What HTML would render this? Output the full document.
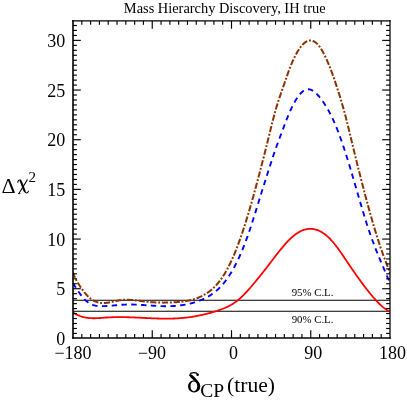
<!DOCTYPE html>
<html><head><meta charset="utf-8"><title>Mass Hierarchy Discovery</title>
<style>
html,body{margin:0;padding:0;background:#fff;}
body{width:407px;height:400px;overflow:hidden;font-family:"Liberation Serif",serif;}
svg{display:block;will-change:transform;}
text{font-family:"Liberation Serif",serif;fill:#000;}
</style></head><body>
<svg width="407" height="400" viewBox="0 0 407 400">
<rect width="407" height="400" fill="#fff"/>
<defs><clipPath id="c"><rect x="73.0" y="20.9" width="317.0" height="317.1"/></clipPath></defs>
<g clip-path="url(#c)" fill="none">
<line x1="73.0" x2="390.0" y1="300.3" y2="300.3" stroke="#000" stroke-width="1.05"/>
<line x1="73.0" x2="390.0" y1="311.3" y2="311.3" stroke="#000" stroke-width="1.05"/>
<path d="M73.00,312.36 L73.64,312.78 L74.27,313.18 L74.91,313.57 L75.54,313.93 L76.18,314.28 L76.81,314.61 L77.45,314.92 L78.08,315.21 L78.72,315.49 L79.35,315.75 L79.99,316.00 L80.62,316.23 L81.26,316.45 L81.89,316.65 L82.53,316.83 L83.16,317.01 L83.80,317.17 L84.43,317.31 L85.07,317.45 L85.71,317.57 L86.34,317.68 L86.98,317.78 L87.61,317.87 L88.25,317.94 L88.88,318.01 L89.52,318.07 L90.15,318.12 L90.79,318.16 L91.42,318.19 L92.06,318.21 L92.69,318.23 L93.33,318.24 L93.96,318.24 L94.60,318.24 L95.23,318.23 L95.87,318.21 L96.51,318.19 L97.14,318.17 L97.78,318.14 L98.41,318.11 L99.05,318.07 L99.68,318.03 L100.32,317.99 L100.95,317.95 L101.59,317.90 L102.22,317.85 L102.86,317.81 L103.49,317.76 L104.13,317.71 L104.76,317.66 L105.40,317.61 L106.03,317.57 L106.67,317.52 L107.30,317.48 L107.94,317.44 L108.58,317.40 L109.21,317.37 L109.85,317.34 L110.48,317.31 L111.12,317.28 L111.75,317.25 L112.39,317.23 L113.02,317.21 L113.66,317.19 L114.29,317.17 L114.93,317.16 L115.56,317.14 L116.20,317.13 L116.83,317.12 L117.47,317.12 L118.10,317.11 L118.74,317.11 L119.37,317.11 L120.01,317.11 L120.65,317.11 L121.28,317.11 L121.92,317.12 L122.55,317.12 L123.19,317.13 L123.82,317.14 L124.46,317.15 L125.09,317.16 L125.73,317.18 L126.36,317.19 L127.00,317.21 L127.63,317.23 L128.27,317.24 L128.90,317.26 L129.54,317.28 L130.17,317.30 L130.81,317.33 L131.44,317.35 L132.08,317.37 L132.72,317.40 L133.35,317.42 L133.99,317.45 L134.62,317.48 L135.26,317.50 L135.89,317.53 L136.53,317.56 L137.16,317.59 L137.80,317.62 L138.43,317.65 L139.07,317.68 L139.70,317.71 L140.34,317.74 L140.97,317.77 L141.61,317.80 L142.24,317.83 L142.88,317.86 L143.52,317.89 L144.15,317.92 L144.79,317.95 L145.42,317.98 L146.06,318.02 L146.69,318.05 L147.33,318.08 L147.96,318.11 L148.60,318.13 L149.23,318.16 L149.87,318.19 L150.50,318.22 L151.14,318.25 L151.77,318.28 L152.41,318.30 L153.04,318.33 L153.68,318.35 L154.31,318.38 L154.95,318.40 L155.59,318.42 L156.22,318.44 L156.86,318.47 L157.49,318.48 L158.13,318.50 L158.76,318.52 L159.40,318.54 L160.03,318.55 L160.67,318.57 L161.30,318.58 L161.94,318.59 L162.57,318.60 L163.21,318.61 L163.84,318.62 L164.48,318.62 L165.11,318.63 L165.75,318.63 L166.38,318.63 L167.02,318.63 L167.66,318.63 L168.29,318.62 L168.93,318.62 L169.56,318.61 L170.20,318.60 L170.83,318.59 L171.47,318.58 L172.10,318.56 L172.74,318.54 L173.37,318.52 L174.01,318.50 L174.64,318.48 L175.28,318.45 L175.91,318.42 L176.55,318.39 L177.18,318.36 L177.82,318.32 L178.45,318.28 L179.09,318.24 L179.73,318.20 L180.36,318.15 L181.00,318.10 L181.63,318.05 L182.27,317.99 L182.90,317.94 L183.54,317.88 L184.17,317.81 L184.81,317.75 L185.44,317.68 L186.08,317.61 L186.71,317.53 L187.35,317.46 L187.98,317.38 L188.62,317.29 L189.25,317.21 L189.89,317.12 L190.53,317.03 L191.16,316.94 L191.80,316.84 L192.43,316.74 L193.07,316.64 L193.70,316.53 L194.34,316.43 L194.97,316.32 L195.61,316.20 L196.24,316.09 L196.88,315.97 L197.51,315.85 L198.15,315.72 L198.78,315.60 L199.42,315.47 L200.05,315.34 L200.69,315.20 L201.32,315.07 L201.96,314.93 L202.60,314.78 L203.23,314.64 L203.87,314.49 L204.50,314.34 L205.14,314.19 L205.77,314.03 L206.41,313.88 L207.04,313.71 L207.68,313.55 L208.31,313.39 L208.95,313.22 L209.58,313.05 L210.22,312.87 L210.85,312.70 L211.49,312.52 L212.12,312.34 L212.76,312.15 L213.39,311.97 L214.03,311.78 L214.67,311.59 L215.30,311.39 L215.94,311.20 L216.57,311.00 L217.21,310.79 L217.84,310.59 L218.48,310.38 L219.11,310.17 L219.75,309.95 L220.38,309.72 L221.02,309.49 L221.65,309.26 L222.29,309.02 L222.92,308.77 L223.56,308.52 L224.19,308.26 L224.83,307.99 L225.46,307.71 L226.10,307.43 L226.74,307.14 L227.37,306.83 L228.01,306.52 L228.64,306.20 L229.28,305.87 L229.91,305.53 L230.55,305.17 L231.18,304.81 L231.82,304.43 L232.45,304.04 L233.09,303.64 L233.72,303.23 L234.36,302.80 L234.99,302.36 L235.63,301.91 L236.26,301.44 L236.90,300.96 L237.54,300.46 L238.17,299.94 L238.81,299.41 L239.44,298.87 L240.08,298.31 L240.71,297.74 L241.35,297.15 L241.98,296.55 L242.62,295.94 L243.25,295.31 L243.89,294.67 L244.52,294.02 L245.16,293.36 L245.79,292.69 L246.43,292.01 L247.06,291.33 L247.70,290.63 L248.33,289.92 L248.97,289.21 L249.61,288.48 L250.24,287.76 L250.88,287.02 L251.51,286.28 L252.15,285.53 L252.78,284.78 L253.42,284.02 L254.05,283.26 L254.69,282.50 L255.32,281.73 L255.96,280.96 L256.59,280.19 L257.23,279.41 L257.86,278.63 L258.50,277.85 L259.13,277.07 L259.77,276.28 L260.40,275.49 L261.04,274.70 L261.68,273.90 L262.31,273.11 L262.95,272.30 L263.58,271.50 L264.22,270.69 L264.85,269.88 L265.49,269.07 L266.12,268.26 L266.76,267.44 L267.39,266.62 L268.03,265.79 L268.66,264.97 L269.30,264.14 L269.93,263.31 L270.57,262.47 L271.20,261.64 L271.84,260.80 L272.47,259.97 L273.11,259.14 L273.75,258.30 L274.38,257.47 L275.02,256.64 L275.65,255.82 L276.29,254.99 L276.92,254.17 L277.56,253.36 L278.19,252.55 L278.83,251.75 L279.46,250.95 L280.10,250.16 L280.73,249.37 L281.37,248.59 L282.00,247.83 L282.64,247.06 L283.27,246.31 L283.91,245.57 L284.55,244.84 L285.18,244.12 L285.82,243.41 L286.45,242.72 L287.09,242.03 L287.72,241.36 L288.36,240.70 L288.99,240.06 L289.63,239.43 L290.26,238.82 L290.90,238.22 L291.53,237.63 L292.17,237.07 L292.80,236.52 L293.44,235.98 L294.07,235.46 L294.71,234.96 L295.34,234.48 L295.98,234.02 L296.62,233.57 L297.25,233.14 L297.89,232.74 L298.52,232.35 L299.16,231.98 L299.79,231.63 L300.43,231.30 L301.06,230.99 L301.70,230.70 L302.33,230.43 L302.97,230.19 L303.60,229.96 L304.24,229.75 L304.87,229.57 L305.51,229.40 L306.14,229.26 L306.78,229.14 L307.41,229.03 L308.05,228.95 L308.69,228.89 L309.32,228.85 L309.96,228.83 L310.59,228.83 L311.23,228.85 L311.86,228.89 L312.50,228.95 L313.13,229.04 L313.77,229.14 L314.40,229.26 L315.04,229.41 L315.67,229.58 L316.31,229.76 L316.94,229.97 L317.58,230.20 L318.21,230.45 L318.85,230.72 L319.48,231.01 L320.12,231.32 L320.76,231.65 L321.39,232.01 L322.03,232.38 L322.66,232.78 L323.30,233.19 L323.93,233.63 L324.57,234.09 L325.20,234.57 L325.84,235.07 L326.47,235.59 L327.11,236.13 L327.74,236.70 L328.38,237.28 L329.01,237.89 L329.65,238.51 L330.28,239.16 L330.92,239.83 L331.56,240.52 L332.19,241.23 L332.83,241.96 L333.46,242.71 L334.10,243.48 L334.73,244.26 L335.37,245.06 L336.00,245.88 L336.64,246.71 L337.27,247.55 L337.91,248.41 L338.54,249.28 L339.18,250.16 L339.81,251.05 L340.45,251.95 L341.08,252.86 L341.72,253.77 L342.35,254.70 L342.99,255.62 L343.63,256.56 L344.26,257.50 L344.90,258.44 L345.53,259.38 L346.17,260.33 L346.80,261.27 L347.44,262.22 L348.07,263.16 L348.71,264.11 L349.34,265.05 L349.98,265.99 L350.61,266.92 L351.25,267.85 L351.88,268.78 L352.52,269.70 L353.15,270.62 L353.79,271.53 L354.42,272.44 L355.06,273.35 L355.70,274.25 L356.33,275.15 L356.97,276.05 L357.60,276.94 L358.24,277.83 L358.87,278.71 L359.51,279.59 L360.14,280.46 L360.78,281.33 L361.41,282.20 L362.05,283.06 L362.68,283.91 L363.32,284.76 L363.95,285.61 L364.59,286.45 L365.22,287.29 L365.86,288.12 L366.49,288.95 L367.13,289.76 L367.77,290.58 L368.40,291.38 L369.04,292.18 L369.67,292.97 L370.31,293.75 L370.94,294.52 L371.58,295.29 L372.21,296.04 L372.85,296.79 L373.48,297.52 L374.12,298.25 L374.75,298.96 L375.39,299.67 L376.02,300.36 L376.66,301.04 L377.29,301.70 L377.93,302.36 L378.57,303.00 L379.20,303.63 L379.84,304.24 L380.47,304.84 L381.11,305.43 L381.74,306.00 L382.38,306.56 L383.01,307.10 L383.65,307.62 L384.28,308.13 L384.92,308.62 L385.55,309.09 L386.19,309.55 L386.82,309.99 L387.46,310.41 L388.09,310.81 L388.73,311.19 L389.36,311.55 L390.00,311.89" stroke="#ff0000" stroke-width="1.8"/>
<path d="M73.00,283.17 L73.64,284.17 L74.27,285.16 L74.91,286.16 L75.54,287.14 L76.18,288.12 L76.81,289.09 L77.45,290.05 L78.08,290.99 L78.72,291.92 L79.35,292.83 L79.99,293.72 L80.62,294.59 L81.26,295.44 L81.89,296.26 L82.53,297.05 L83.16,297.81 L83.80,298.54 L84.43,299.23 L85.07,299.88 L85.71,300.50 L86.34,301.08 L86.98,301.61 L87.61,302.11 L88.25,302.57 L88.88,303.00 L89.52,303.39 L90.15,303.74 L90.79,304.07 L91.42,304.37 L92.06,304.64 L92.69,304.88 L93.33,305.09 L93.96,305.28 L94.60,305.45 L95.23,305.59 L95.87,305.72 L96.51,305.83 L97.14,305.92 L97.78,305.99 L98.41,306.05 L99.05,306.09 L99.68,306.13 L100.32,306.15 L100.95,306.17 L101.59,306.18 L102.22,306.18 L102.86,306.17 L103.49,306.16 L104.13,306.15 L104.76,306.13 L105.40,306.10 L106.03,306.07 L106.67,306.04 L107.30,306.00 L107.94,305.96 L108.58,305.91 L109.21,305.87 L109.85,305.82 L110.48,305.76 L111.12,305.71 L111.75,305.65 L112.39,305.60 L113.02,305.54 L113.66,305.48 L114.29,305.42 L114.93,305.36 L115.56,305.30 L116.20,305.24 L116.83,305.18 L117.47,305.12 L118.10,305.06 L118.74,305.01 L119.37,304.95 L120.01,304.90 L120.65,304.85 L121.28,304.81 L121.92,304.76 L122.55,304.72 L123.19,304.68 L123.82,304.65 L124.46,304.62 L125.09,304.60 L125.73,304.58 L126.36,304.56 L127.00,304.54 L127.63,304.53 L128.27,304.53 L128.90,304.52 L129.54,304.52 L130.17,304.52 L130.81,304.53 L131.44,304.53 L132.08,304.54 L132.72,304.56 L133.35,304.57 L133.99,304.59 L134.62,304.61 L135.26,304.63 L135.89,304.65 L136.53,304.68 L137.16,304.71 L137.80,304.73 L138.43,304.77 L139.07,304.80 L139.70,304.83 L140.34,304.87 L140.97,304.90 L141.61,304.94 L142.24,304.98 L142.88,305.02 L143.52,305.06 L144.15,305.10 L144.79,305.14 L145.42,305.19 L146.06,305.23 L146.69,305.27 L147.33,305.31 L147.96,305.36 L148.60,305.40 L149.23,305.44 L149.87,305.49 L150.50,305.53 L151.14,305.57 L151.77,305.62 L152.41,305.66 L153.04,305.70 L153.68,305.74 L154.31,305.78 L154.95,305.81 L155.59,305.85 L156.22,305.89 L156.86,305.92 L157.49,305.95 L158.13,305.99 L158.76,306.02 L159.40,306.04 L160.03,306.07 L160.67,306.09 L161.30,306.12 L161.94,306.14 L162.57,306.16 L163.21,306.17 L163.84,306.19 L164.48,306.20 L165.11,306.20 L165.75,306.21 L166.38,306.21 L167.02,306.21 L167.66,306.21 L168.29,306.20 L168.93,306.19 L169.56,306.18 L170.20,306.16 L170.83,306.14 L171.47,306.12 L172.10,306.09 L172.74,306.06 L173.37,306.03 L174.01,305.99 L174.64,305.95 L175.28,305.90 L175.91,305.85 L176.55,305.80 L177.18,305.74 L177.82,305.68 L178.45,305.61 L179.09,305.54 L179.73,305.47 L180.36,305.39 L181.00,305.31 L181.63,305.22 L182.27,305.13 L182.90,305.03 L183.54,304.93 L184.17,304.82 L184.81,304.71 L185.44,304.59 L186.08,304.47 L186.71,304.34 L187.35,304.21 L187.98,304.08 L188.62,303.94 L189.25,303.79 L189.89,303.64 L190.53,303.48 L191.16,303.32 L191.80,303.15 L192.43,302.97 L193.07,302.79 L193.70,302.61 L194.34,302.42 L194.97,302.22 L195.61,302.02 L196.24,301.81 L196.88,301.60 L197.51,301.38 L198.15,301.15 L198.78,300.92 L199.42,300.68 L200.05,300.43 L200.69,300.18 L201.32,299.92 L201.96,299.66 L202.60,299.38 L203.23,299.10 L203.87,298.81 L204.50,298.51 L205.14,298.20 L205.77,297.89 L206.41,297.56 L207.04,297.22 L207.68,296.87 L208.31,296.51 L208.95,296.14 L209.58,295.75 L210.22,295.35 L210.85,294.94 L211.49,294.52 L212.12,294.08 L212.76,293.63 L213.39,293.16 L214.03,292.68 L214.67,292.18 L215.30,291.67 L215.94,291.14 L216.57,290.60 L217.21,290.03 L217.84,289.45 L218.48,288.85 L219.11,288.24 L219.75,287.60 L220.38,286.95 L221.02,286.27 L221.65,285.58 L222.29,284.87 L222.92,284.13 L223.56,283.38 L224.19,282.60 L224.83,281.80 L225.46,280.98 L226.10,280.13 L226.74,279.27 L227.37,278.38 L228.01,277.46 L228.64,276.52 L229.28,275.56 L229.91,274.58 L230.55,273.56 L231.18,272.53 L231.82,271.47 L232.45,270.38 L233.09,269.27 L233.72,268.13 L234.36,266.96 L234.99,265.77 L235.63,264.55 L236.26,263.31 L236.90,262.03 L237.54,260.73 L238.17,259.40 L238.81,258.05 L239.44,256.66 L240.08,255.24 L240.71,253.80 L241.35,252.33 L241.98,250.82 L242.62,249.29 L243.25,247.72 L243.89,246.13 L244.52,244.50 L245.16,242.85 L245.79,241.16 L246.43,239.44 L247.06,237.69 L247.70,235.90 L248.33,234.09 L248.97,232.25 L249.61,230.38 L250.24,228.48 L250.88,226.57 L251.51,224.63 L252.15,222.67 L252.78,220.69 L253.42,218.70 L254.05,216.69 L254.69,214.67 L255.32,212.64 L255.96,210.60 L256.59,208.55 L257.23,206.49 L257.86,204.44 L258.50,202.37 L259.13,200.31 L259.77,198.25 L260.40,196.19 L261.04,194.14 L261.68,192.09 L262.31,190.04 L262.95,188.01 L263.58,185.99 L264.22,183.97 L264.85,181.97 L265.49,179.97 L266.12,177.97 L266.76,175.98 L267.39,174.00 L268.03,172.02 L268.66,170.05 L269.30,168.08 L269.93,166.11 L270.57,164.14 L271.20,162.18 L271.84,160.22 L272.47,158.28 L273.11,156.35 L273.75,154.44 L274.38,152.55 L275.02,150.69 L275.65,148.86 L276.29,147.07 L276.92,145.30 L277.56,143.57 L278.19,141.85 L278.83,140.15 L279.46,138.46 L280.10,136.78 L280.73,135.11 L281.37,133.43 L282.00,131.75 L282.64,130.06 L283.27,128.37 L283.91,126.68 L284.55,124.99 L285.18,123.32 L285.82,121.66 L286.45,120.03 L287.09,118.42 L287.72,116.85 L288.36,115.31 L288.99,113.80 L289.63,112.33 L290.26,110.89 L290.90,109.49 L291.53,108.13 L292.17,106.81 L292.80,105.52 L293.44,104.28 L294.07,103.08 L294.71,101.93 L295.34,100.82 L295.98,99.75 L296.62,98.74 L297.25,97.77 L297.89,96.85 L298.52,95.98 L299.16,95.16 L299.79,94.39 L300.43,93.67 L301.06,93.00 L301.70,92.39 L302.33,91.83 L302.97,91.33 L303.60,90.88 L304.24,90.48 L304.87,90.14 L305.51,89.86 L306.14,89.63 L306.78,89.47 L307.41,89.36 L308.05,89.31 L308.69,89.32 L309.32,89.39 L309.96,89.51 L310.59,89.70 L311.23,89.93 L311.86,90.22 L312.50,90.56 L313.13,90.94 L313.77,91.37 L314.40,91.85 L315.04,92.36 L315.67,92.92 L316.31,93.51 L316.94,94.14 L317.58,94.81 L318.21,95.51 L318.85,96.23 L319.48,96.99 L320.12,97.77 L320.76,98.58 L321.39,99.41 L322.03,100.26 L322.66,101.14 L323.30,102.05 L323.93,102.98 L324.57,103.94 L325.20,104.92 L325.84,105.94 L326.47,106.98 L327.11,108.05 L327.74,109.14 L328.38,110.27 L329.01,111.43 L329.65,112.62 L330.28,113.84 L330.92,115.10 L331.56,116.38 L332.19,117.70 L332.83,119.05 L333.46,120.44 L334.10,121.86 L334.73,123.32 L335.37,124.81 L336.00,126.34 L336.64,127.91 L337.27,129.50 L337.91,131.13 L338.54,132.80 L339.18,134.49 L339.81,136.22 L340.45,137.97 L341.08,139.75 L341.72,141.56 L342.35,143.40 L342.99,145.26 L343.63,147.15 L344.26,149.07 L344.90,151.00 L345.53,152.96 L346.17,154.94 L346.80,156.94 L347.44,158.96 L348.07,161.00 L348.71,163.06 L349.34,165.14 L349.98,167.23 L350.61,169.34 L351.25,171.46 L351.88,173.59 L352.52,175.74 L353.15,177.90 L353.79,180.07 L354.42,182.25 L355.06,184.44 L355.70,186.63 L356.33,188.82 L356.97,191.02 L357.60,193.21 L358.24,195.40 L358.87,197.59 L359.51,199.78 L360.14,201.95 L360.78,204.12 L361.41,206.28 L362.05,208.42 L362.68,210.55 L363.32,212.67 L363.95,214.76 L364.59,216.84 L365.22,218.90 L365.86,220.93 L366.49,222.94 L367.13,224.92 L367.77,226.88 L368.40,228.80 L369.04,230.70 L369.67,232.56 L370.31,234.40 L370.94,236.21 L371.58,238.00 L372.21,239.75 L372.85,241.49 L373.48,243.19 L374.12,244.88 L374.75,246.54 L375.39,248.18 L376.02,249.80 L376.66,251.40 L377.29,252.99 L377.93,254.55 L378.57,256.11 L379.20,257.64 L379.84,259.17 L380.47,260.68 L381.11,262.19 L381.74,263.68 L382.38,265.17 L383.01,266.66 L383.65,268.14 L384.28,269.62 L384.92,271.09 L385.55,272.57 L386.19,274.05 L386.82,275.53 L387.46,277.01 L388.09,278.50 L388.73,280.00 L389.36,281.51 L390.00,283.02" stroke="#0000ff" stroke-width="1.9" stroke-dasharray="5.4 4.4"/>
<path d="M73.00,272.59 L73.64,274.27 L74.27,275.84 L74.91,277.30 L75.54,278.66 L76.18,279.93 L76.81,281.13 L77.45,282.26 L78.08,283.32 L78.72,284.33 L79.35,285.30 L79.99,286.24 L80.62,287.15 L81.26,288.05 L81.89,288.93 L82.53,289.80 L83.16,290.66 L83.80,291.50 L84.43,292.32 L85.07,293.10 L85.71,293.86 L86.34,294.59 L86.98,295.28 L87.61,295.93 L88.25,296.56 L88.88,297.15 L89.52,297.70 L90.15,298.23 L90.79,298.73 L91.42,299.19 L92.06,299.63 L92.69,300.04 L93.33,300.42 L93.96,300.77 L94.60,301.09 L95.23,301.39 L95.87,301.66 L96.51,301.90 L97.14,302.12 L97.78,302.32 L98.41,302.49 L99.05,302.64 L99.68,302.76 L100.32,302.87 L100.95,302.95 L101.59,303.01 L102.22,303.05 L102.86,303.07 L103.49,303.07 L104.13,303.06 L104.76,303.03 L105.40,302.98 L106.03,302.93 L106.67,302.85 L107.30,302.77 L107.94,302.67 L108.58,302.57 L109.21,302.46 L109.85,302.34 L110.48,302.21 L111.12,302.08 L111.75,301.94 L112.39,301.80 L113.02,301.66 L113.66,301.51 L114.29,301.37 L114.93,301.23 L115.56,301.08 L116.20,300.95 L116.83,300.81 L117.47,300.68 L118.10,300.56 L118.74,300.45 L119.37,300.34 L120.01,300.24 L120.65,300.16 L121.28,300.08 L121.92,300.01 L122.55,299.95 L123.19,299.91 L123.82,299.87 L124.46,299.84 L125.09,299.81 L125.73,299.80 L126.36,299.79 L127.00,299.79 L127.63,299.80 L128.27,299.82 L128.90,299.84 L129.54,299.86 L130.17,299.90 L130.81,299.93 L131.44,299.98 L132.08,300.02 L132.72,300.08 L133.35,300.13 L133.99,300.19 L134.62,300.26 L135.26,300.33 L135.89,300.40 L136.53,300.47 L137.16,300.54 L137.80,300.62 L138.43,300.70 L139.07,300.78 L139.70,300.86 L140.34,300.94 L140.97,301.02 L141.61,301.11 L142.24,301.19 L142.88,301.27 L143.52,301.35 L144.15,301.43 L144.79,301.51 L145.42,301.58 L146.06,301.66 L146.69,301.73 L147.33,301.80 L147.96,301.86 L148.60,301.93 L149.23,301.99 L149.87,302.04 L150.50,302.10 L151.14,302.15 L151.77,302.20 L152.41,302.25 L153.04,302.29 L153.68,302.33 L154.31,302.37 L154.95,302.40 L155.59,302.43 L156.22,302.46 L156.86,302.49 L157.49,302.52 L158.13,302.54 L158.76,302.56 L159.40,302.58 L160.03,302.59 L160.67,302.60 L161.30,302.61 L161.94,302.62 L162.57,302.62 L163.21,302.63 L163.84,302.63 L164.48,302.62 L165.11,302.62 L165.75,302.61 L166.38,302.60 L167.02,302.59 L167.66,302.58 L168.29,302.56 L168.93,302.54 L169.56,302.52 L170.20,302.50 L170.83,302.47 L171.47,302.45 L172.10,302.42 L172.74,302.39 L173.37,302.35 L174.01,302.32 L174.64,302.28 L175.28,302.24 L175.91,302.20 L176.55,302.16 L177.18,302.11 L177.82,302.06 L178.45,302.01 L179.09,301.95 L179.73,301.89 L180.36,301.83 L181.00,301.77 L181.63,301.69 L182.27,301.62 L182.90,301.54 L183.54,301.46 L184.17,301.37 L184.81,301.27 L185.44,301.18 L186.08,301.07 L186.71,300.96 L187.35,300.84 L187.98,300.72 L188.62,300.59 L189.25,300.45 L189.89,300.31 L190.53,300.16 L191.16,300.00 L191.80,299.84 L192.43,299.66 L193.07,299.48 L193.70,299.29 L194.34,299.10 L194.97,298.89 L195.61,298.68 L196.24,298.45 L196.88,298.22 L197.51,297.97 L198.15,297.72 L198.78,297.46 L199.42,297.19 L200.05,296.90 L200.69,296.61 L201.32,296.30 L201.96,295.99 L202.60,295.66 L203.23,295.32 L203.87,294.97 L204.50,294.61 L205.14,294.23 L205.77,293.85 L206.41,293.44 L207.04,293.03 L207.68,292.60 L208.31,292.16 L208.95,291.69 L209.58,291.22 L210.22,290.72 L210.85,290.21 L211.49,289.68 L212.12,289.14 L212.76,288.57 L213.39,287.98 L214.03,287.38 L214.67,286.75 L215.30,286.10 L215.94,285.43 L216.57,284.74 L217.21,284.02 L217.84,283.28 L218.48,282.51 L219.11,281.73 L219.75,280.91 L220.38,280.07 L221.02,279.20 L221.65,278.31 L222.29,277.39 L222.92,276.44 L223.56,275.46 L224.19,274.45 L224.83,273.41 L225.46,272.35 L226.10,271.25 L226.74,270.12 L227.37,268.95 L228.01,267.76 L228.64,266.53 L229.28,265.27 L229.91,263.98 L230.55,262.65 L231.18,261.30 L231.82,259.91 L232.45,258.49 L233.09,257.04 L233.72,255.56 L234.36,254.05 L234.99,252.51 L235.63,250.94 L236.26,249.34 L236.90,247.71 L237.54,246.05 L238.17,244.36 L238.81,242.65 L239.44,240.90 L240.08,239.13 L240.71,237.33 L241.35,235.50 L241.98,233.65 L242.62,231.77 L243.25,229.86 L243.89,227.92 L244.52,225.96 L245.16,223.97 L245.79,221.96 L246.43,219.92 L247.06,217.86 L247.70,215.77 L248.33,213.65 L248.97,211.51 L249.61,209.35 L250.24,207.17 L250.88,204.96 L251.51,202.73 L252.15,200.49 L252.78,198.22 L253.42,195.94 L254.05,193.63 L254.69,191.31 L255.32,188.98 L255.96,186.63 L256.59,184.26 L257.23,181.89 L257.86,179.50 L258.50,177.09 L259.13,174.68 L259.77,172.25 L260.40,169.82 L261.04,167.38 L261.68,164.93 L262.31,162.47 L262.95,160.00 L263.58,157.53 L264.22,155.04 L264.85,152.54 L265.49,150.03 L266.12,147.50 L266.76,144.96 L267.39,142.40 L268.03,139.83 L268.66,137.24 L269.30,134.64 L269.93,132.04 L270.57,129.45 L271.20,126.87 L271.84,124.32 L272.47,121.80 L273.11,119.32 L273.75,116.88 L274.38,114.49 L275.02,112.17 L275.65,109.91 L276.29,107.73 L276.92,105.62 L277.56,103.58 L278.19,101.59 L278.83,99.65 L279.46,97.74 L280.10,95.87 L280.73,94.02 L281.37,92.19 L282.00,90.36 L282.64,88.53 L283.27,86.70 L283.91,84.85 L284.55,83.00 L285.18,81.15 L285.82,79.30 L286.45,77.47 L287.09,75.65 L287.72,73.86 L288.36,72.10 L288.99,70.38 L289.63,68.69 L290.26,67.06 L290.90,65.46 L291.53,63.92 L292.17,62.41 L292.80,60.96 L293.44,59.55 L294.07,58.19 L294.71,56.87 L295.34,55.61 L295.98,54.39 L296.62,53.22 L297.25,52.10 L297.89,51.03 L298.52,50.01 L299.16,49.03 L299.79,48.11 L300.43,47.24 L301.06,46.42 L301.70,45.65 L302.33,44.94 L302.97,44.27 L303.60,43.66 L304.24,43.10 L304.87,42.60 L305.51,42.15 L306.14,41.75 L306.78,41.41 L307.41,41.12 L308.05,40.88 L308.69,40.71 L309.32,40.58 L309.96,40.52 L310.59,40.51 L311.23,40.56 L311.86,40.66 L312.50,40.83 L313.13,41.05 L313.77,41.33 L314.40,41.67 L315.04,42.07 L315.67,42.52 L316.31,43.04 L316.94,43.62 L317.58,44.26 L318.21,44.96 L318.85,45.72 L319.48,46.54 L320.12,47.42 L320.76,48.36 L321.39,49.35 L322.03,50.40 L322.66,51.50 L323.30,52.65 L323.93,53.86 L324.57,55.11 L325.20,56.41 L325.84,57.75 L326.47,59.14 L327.11,60.58 L327.74,62.05 L328.38,63.57 L329.01,65.12 L329.65,66.72 L330.28,68.34 L330.92,70.01 L331.56,71.70 L332.19,73.43 L332.83,75.19 L333.46,76.98 L334.10,78.80 L334.73,80.64 L335.37,82.50 L336.00,84.39 L336.64,86.31 L337.27,88.24 L337.91,90.19 L338.54,92.16 L339.18,94.16 L339.81,96.19 L340.45,98.25 L341.08,100.34 L341.72,102.48 L342.35,104.66 L342.99,106.88 L343.63,109.16 L344.26,111.49 L344.90,113.87 L345.53,116.30 L346.17,118.77 L346.80,121.27 L347.44,123.81 L348.07,126.38 L348.71,128.97 L349.34,131.58 L349.98,134.21 L350.61,136.84 L351.25,139.49 L351.88,142.13 L352.52,144.77 L353.15,147.41 L353.79,150.03 L354.42,152.64 L355.06,155.23 L355.70,157.81 L356.33,160.38 L356.97,162.93 L357.60,165.47 L358.24,168.00 L358.87,170.52 L359.51,173.03 L360.14,175.53 L360.78,178.02 L361.41,180.50 L362.05,182.97 L362.68,185.43 L363.32,187.87 L363.95,190.31 L364.59,192.73 L365.22,195.14 L365.86,197.53 L366.49,199.91 L367.13,202.27 L367.77,204.61 L368.40,206.94 L369.04,209.25 L369.67,211.55 L370.31,213.82 L370.94,216.07 L371.58,218.31 L372.21,220.52 L372.85,222.71 L373.48,224.88 L374.12,227.03 L374.75,229.15 L375.39,231.25 L376.02,233.32 L376.66,235.37 L377.29,237.39 L377.93,239.39 L378.57,241.35 L379.20,243.29 L379.84,245.20 L380.47,247.08 L381.11,248.92 L381.74,250.74 L382.38,252.53 L383.01,254.29 L383.65,256.03 L384.28,257.75 L384.92,259.46 L385.55,261.16 L386.19,262.84 L386.82,264.53 L387.46,266.20 L388.09,267.88 L388.73,269.57 L389.36,271.26 L390.00,272.96" stroke="#8a3300" stroke-width="2" stroke-dasharray="6.2 1.8 1.9 1.8" stroke-dashoffset="0.8"/>
</g>
<g stroke="#000" stroke-width="1.15">
<line x1="81.81" y1="338.00" x2="81.81" y2="334.10"/>
<line x1="81.81" y1="20.90" x2="81.81" y2="24.80"/>
<line x1="90.61" y1="338.00" x2="90.61" y2="334.10"/>
<line x1="90.61" y1="20.90" x2="90.61" y2="24.80"/>
<line x1="99.42" y1="338.00" x2="99.42" y2="334.10"/>
<line x1="99.42" y1="20.90" x2="99.42" y2="24.80"/>
<line x1="108.22" y1="338.00" x2="108.22" y2="334.10"/>
<line x1="108.22" y1="20.90" x2="108.22" y2="24.80"/>
<line x1="117.03" y1="338.00" x2="117.03" y2="334.10"/>
<line x1="117.03" y1="20.90" x2="117.03" y2="24.80"/>
<line x1="125.83" y1="338.00" x2="125.83" y2="334.10"/>
<line x1="125.83" y1="20.90" x2="125.83" y2="24.80"/>
<line x1="134.64" y1="338.00" x2="134.64" y2="334.10"/>
<line x1="134.64" y1="20.90" x2="134.64" y2="24.80"/>
<line x1="143.44" y1="338.00" x2="143.44" y2="334.10"/>
<line x1="143.44" y1="20.90" x2="143.44" y2="24.80"/>
<line x1="152.25" y1="338.00" x2="152.25" y2="330.20"/>
<line x1="152.25" y1="20.90" x2="152.25" y2="28.70"/>
<line x1="161.06" y1="338.00" x2="161.06" y2="334.10"/>
<line x1="161.06" y1="20.90" x2="161.06" y2="24.80"/>
<line x1="169.86" y1="338.00" x2="169.86" y2="334.10"/>
<line x1="169.86" y1="20.90" x2="169.86" y2="24.80"/>
<line x1="178.67" y1="338.00" x2="178.67" y2="334.10"/>
<line x1="178.67" y1="20.90" x2="178.67" y2="24.80"/>
<line x1="187.47" y1="338.00" x2="187.47" y2="334.10"/>
<line x1="187.47" y1="20.90" x2="187.47" y2="24.80"/>
<line x1="196.28" y1="338.00" x2="196.28" y2="334.10"/>
<line x1="196.28" y1="20.90" x2="196.28" y2="24.80"/>
<line x1="205.08" y1="338.00" x2="205.08" y2="334.10"/>
<line x1="205.08" y1="20.90" x2="205.08" y2="24.80"/>
<line x1="213.89" y1="338.00" x2="213.89" y2="334.10"/>
<line x1="213.89" y1="20.90" x2="213.89" y2="24.80"/>
<line x1="222.69" y1="338.00" x2="222.69" y2="334.10"/>
<line x1="222.69" y1="20.90" x2="222.69" y2="24.80"/>
<line x1="231.50" y1="338.00" x2="231.50" y2="330.20"/>
<line x1="231.50" y1="20.90" x2="231.50" y2="28.70"/>
<line x1="240.31" y1="338.00" x2="240.31" y2="334.10"/>
<line x1="240.31" y1="20.90" x2="240.31" y2="24.80"/>
<line x1="249.11" y1="338.00" x2="249.11" y2="334.10"/>
<line x1="249.11" y1="20.90" x2="249.11" y2="24.80"/>
<line x1="257.92" y1="338.00" x2="257.92" y2="334.10"/>
<line x1="257.92" y1="20.90" x2="257.92" y2="24.80"/>
<line x1="266.72" y1="338.00" x2="266.72" y2="334.10"/>
<line x1="266.72" y1="20.90" x2="266.72" y2="24.80"/>
<line x1="275.53" y1="338.00" x2="275.53" y2="334.10"/>
<line x1="275.53" y1="20.90" x2="275.53" y2="24.80"/>
<line x1="284.33" y1="338.00" x2="284.33" y2="334.10"/>
<line x1="284.33" y1="20.90" x2="284.33" y2="24.80"/>
<line x1="293.14" y1="338.00" x2="293.14" y2="334.10"/>
<line x1="293.14" y1="20.90" x2="293.14" y2="24.80"/>
<line x1="301.94" y1="338.00" x2="301.94" y2="334.10"/>
<line x1="301.94" y1="20.90" x2="301.94" y2="24.80"/>
<line x1="310.75" y1="338.00" x2="310.75" y2="330.20"/>
<line x1="310.75" y1="20.90" x2="310.75" y2="28.70"/>
<line x1="319.56" y1="338.00" x2="319.56" y2="334.10"/>
<line x1="319.56" y1="20.90" x2="319.56" y2="24.80"/>
<line x1="328.36" y1="338.00" x2="328.36" y2="334.10"/>
<line x1="328.36" y1="20.90" x2="328.36" y2="24.80"/>
<line x1="337.17" y1="338.00" x2="337.17" y2="334.10"/>
<line x1="337.17" y1="20.90" x2="337.17" y2="24.80"/>
<line x1="345.97" y1="338.00" x2="345.97" y2="334.10"/>
<line x1="345.97" y1="20.90" x2="345.97" y2="24.80"/>
<line x1="354.78" y1="338.00" x2="354.78" y2="334.10"/>
<line x1="354.78" y1="20.90" x2="354.78" y2="24.80"/>
<line x1="363.58" y1="338.00" x2="363.58" y2="334.10"/>
<line x1="363.58" y1="20.90" x2="363.58" y2="24.80"/>
<line x1="372.39" y1="338.00" x2="372.39" y2="334.10"/>
<line x1="372.39" y1="20.90" x2="372.39" y2="24.80"/>
<line x1="381.19" y1="338.00" x2="381.19" y2="334.10"/>
<line x1="381.19" y1="20.90" x2="381.19" y2="24.80"/>
<line x1="73.00" y1="333.43" x2="76.90" y2="333.43"/>
<line x1="390.00" y1="333.43" x2="386.10" y2="333.43"/>
<line x1="73.00" y1="328.47" x2="76.90" y2="328.47"/>
<line x1="390.00" y1="328.47" x2="386.10" y2="328.47"/>
<line x1="73.00" y1="323.50" x2="76.90" y2="323.50"/>
<line x1="390.00" y1="323.50" x2="386.10" y2="323.50"/>
<line x1="73.00" y1="318.53" x2="76.90" y2="318.53"/>
<line x1="390.00" y1="318.53" x2="386.10" y2="318.53"/>
<line x1="73.00" y1="313.56" x2="76.90" y2="313.56"/>
<line x1="390.00" y1="313.56" x2="386.10" y2="313.56"/>
<line x1="73.00" y1="308.60" x2="76.90" y2="308.60"/>
<line x1="390.00" y1="308.60" x2="386.10" y2="308.60"/>
<line x1="73.00" y1="303.63" x2="76.90" y2="303.63"/>
<line x1="390.00" y1="303.63" x2="386.10" y2="303.63"/>
<line x1="73.00" y1="298.66" x2="76.90" y2="298.66"/>
<line x1="390.00" y1="298.66" x2="386.10" y2="298.66"/>
<line x1="73.00" y1="293.70" x2="76.90" y2="293.70"/>
<line x1="390.00" y1="293.70" x2="386.10" y2="293.70"/>
<line x1="73.00" y1="288.73" x2="80.80" y2="288.73"/>
<line x1="390.00" y1="288.73" x2="382.20" y2="288.73"/>
<line x1="73.00" y1="283.76" x2="76.90" y2="283.76"/>
<line x1="390.00" y1="283.76" x2="386.10" y2="283.76"/>
<line x1="73.00" y1="278.80" x2="76.90" y2="278.80"/>
<line x1="390.00" y1="278.80" x2="386.10" y2="278.80"/>
<line x1="73.00" y1="273.83" x2="76.90" y2="273.83"/>
<line x1="390.00" y1="273.83" x2="386.10" y2="273.83"/>
<line x1="73.00" y1="268.86" x2="76.90" y2="268.86"/>
<line x1="390.00" y1="268.86" x2="386.10" y2="268.86"/>
<line x1="73.00" y1="263.89" x2="76.90" y2="263.89"/>
<line x1="390.00" y1="263.89" x2="386.10" y2="263.89"/>
<line x1="73.00" y1="258.93" x2="76.90" y2="258.93"/>
<line x1="390.00" y1="258.93" x2="386.10" y2="258.93"/>
<line x1="73.00" y1="253.96" x2="76.90" y2="253.96"/>
<line x1="390.00" y1="253.96" x2="386.10" y2="253.96"/>
<line x1="73.00" y1="248.99" x2="76.90" y2="248.99"/>
<line x1="390.00" y1="248.99" x2="386.10" y2="248.99"/>
<line x1="73.00" y1="244.03" x2="76.90" y2="244.03"/>
<line x1="390.00" y1="244.03" x2="386.10" y2="244.03"/>
<line x1="73.00" y1="239.06" x2="80.80" y2="239.06"/>
<line x1="390.00" y1="239.06" x2="382.20" y2="239.06"/>
<line x1="73.00" y1="234.09" x2="76.90" y2="234.09"/>
<line x1="390.00" y1="234.09" x2="386.10" y2="234.09"/>
<line x1="73.00" y1="229.13" x2="76.90" y2="229.13"/>
<line x1="390.00" y1="229.13" x2="386.10" y2="229.13"/>
<line x1="73.00" y1="224.16" x2="76.90" y2="224.16"/>
<line x1="390.00" y1="224.16" x2="386.10" y2="224.16"/>
<line x1="73.00" y1="219.19" x2="76.90" y2="219.19"/>
<line x1="390.00" y1="219.19" x2="386.10" y2="219.19"/>
<line x1="73.00" y1="214.22" x2="76.90" y2="214.22"/>
<line x1="390.00" y1="214.22" x2="386.10" y2="214.22"/>
<line x1="73.00" y1="209.26" x2="76.90" y2="209.26"/>
<line x1="390.00" y1="209.26" x2="386.10" y2="209.26"/>
<line x1="73.00" y1="204.29" x2="76.90" y2="204.29"/>
<line x1="390.00" y1="204.29" x2="386.10" y2="204.29"/>
<line x1="73.00" y1="199.32" x2="76.90" y2="199.32"/>
<line x1="390.00" y1="199.32" x2="386.10" y2="199.32"/>
<line x1="73.00" y1="194.36" x2="76.90" y2="194.36"/>
<line x1="390.00" y1="194.36" x2="386.10" y2="194.36"/>
<line x1="73.00" y1="189.39" x2="80.80" y2="189.39"/>
<line x1="390.00" y1="189.39" x2="382.20" y2="189.39"/>
<line x1="73.00" y1="184.42" x2="76.90" y2="184.42"/>
<line x1="390.00" y1="184.42" x2="386.10" y2="184.42"/>
<line x1="73.00" y1="179.46" x2="76.90" y2="179.46"/>
<line x1="390.00" y1="179.46" x2="386.10" y2="179.46"/>
<line x1="73.00" y1="174.49" x2="76.90" y2="174.49"/>
<line x1="390.00" y1="174.49" x2="386.10" y2="174.49"/>
<line x1="73.00" y1="169.52" x2="76.90" y2="169.52"/>
<line x1="390.00" y1="169.52" x2="386.10" y2="169.52"/>
<line x1="73.00" y1="164.55" x2="76.90" y2="164.55"/>
<line x1="390.00" y1="164.55" x2="386.10" y2="164.55"/>
<line x1="73.00" y1="159.59" x2="76.90" y2="159.59"/>
<line x1="390.00" y1="159.59" x2="386.10" y2="159.59"/>
<line x1="73.00" y1="154.62" x2="76.90" y2="154.62"/>
<line x1="390.00" y1="154.62" x2="386.10" y2="154.62"/>
<line x1="73.00" y1="149.65" x2="76.90" y2="149.65"/>
<line x1="390.00" y1="149.65" x2="386.10" y2="149.65"/>
<line x1="73.00" y1="144.69" x2="76.90" y2="144.69"/>
<line x1="390.00" y1="144.69" x2="386.10" y2="144.69"/>
<line x1="73.00" y1="139.72" x2="80.80" y2="139.72"/>
<line x1="390.00" y1="139.72" x2="382.20" y2="139.72"/>
<line x1="73.00" y1="134.75" x2="76.90" y2="134.75"/>
<line x1="390.00" y1="134.75" x2="386.10" y2="134.75"/>
<line x1="73.00" y1="129.79" x2="76.90" y2="129.79"/>
<line x1="390.00" y1="129.79" x2="386.10" y2="129.79"/>
<line x1="73.00" y1="124.82" x2="76.90" y2="124.82"/>
<line x1="390.00" y1="124.82" x2="386.10" y2="124.82"/>
<line x1="73.00" y1="119.85" x2="76.90" y2="119.85"/>
<line x1="390.00" y1="119.85" x2="386.10" y2="119.85"/>
<line x1="73.00" y1="114.88" x2="76.90" y2="114.88"/>
<line x1="390.00" y1="114.88" x2="386.10" y2="114.88"/>
<line x1="73.00" y1="109.92" x2="76.90" y2="109.92"/>
<line x1="390.00" y1="109.92" x2="386.10" y2="109.92"/>
<line x1="73.00" y1="104.95" x2="76.90" y2="104.95"/>
<line x1="390.00" y1="104.95" x2="386.10" y2="104.95"/>
<line x1="73.00" y1="99.98" x2="76.90" y2="99.98"/>
<line x1="390.00" y1="99.98" x2="386.10" y2="99.98"/>
<line x1="73.00" y1="95.02" x2="76.90" y2="95.02"/>
<line x1="390.00" y1="95.02" x2="386.10" y2="95.02"/>
<line x1="73.00" y1="90.05" x2="80.80" y2="90.05"/>
<line x1="390.00" y1="90.05" x2="382.20" y2="90.05"/>
<line x1="73.00" y1="85.08" x2="76.90" y2="85.08"/>
<line x1="390.00" y1="85.08" x2="386.10" y2="85.08"/>
<line x1="73.00" y1="80.12" x2="76.90" y2="80.12"/>
<line x1="390.00" y1="80.12" x2="386.10" y2="80.12"/>
<line x1="73.00" y1="75.15" x2="76.90" y2="75.15"/>
<line x1="390.00" y1="75.15" x2="386.10" y2="75.15"/>
<line x1="73.00" y1="70.18" x2="76.90" y2="70.18"/>
<line x1="390.00" y1="70.18" x2="386.10" y2="70.18"/>
<line x1="73.00" y1="65.21" x2="76.90" y2="65.21"/>
<line x1="390.00" y1="65.21" x2="386.10" y2="65.21"/>
<line x1="73.00" y1="60.25" x2="76.90" y2="60.25"/>
<line x1="390.00" y1="60.25" x2="386.10" y2="60.25"/>
<line x1="73.00" y1="55.28" x2="76.90" y2="55.28"/>
<line x1="390.00" y1="55.28" x2="386.10" y2="55.28"/>
<line x1="73.00" y1="50.31" x2="76.90" y2="50.31"/>
<line x1="390.00" y1="50.31" x2="386.10" y2="50.31"/>
<line x1="73.00" y1="45.35" x2="76.90" y2="45.35"/>
<line x1="390.00" y1="45.35" x2="386.10" y2="45.35"/>
<line x1="73.00" y1="40.38" x2="80.80" y2="40.38"/>
<line x1="390.00" y1="40.38" x2="382.20" y2="40.38"/>
<line x1="73.00" y1="35.41" x2="76.90" y2="35.41"/>
<line x1="390.00" y1="35.41" x2="386.10" y2="35.41"/>
<line x1="73.00" y1="30.45" x2="76.90" y2="30.45"/>
<line x1="390.00" y1="30.45" x2="386.10" y2="30.45"/>
<line x1="73.00" y1="25.48" x2="76.90" y2="25.48"/>
<line x1="390.00" y1="25.48" x2="386.10" y2="25.48"/>
</g>
<g stroke="#000" stroke-linecap="square">
<line x1="73.0" y1="20.9" x2="73.0" y2="338.0" stroke-width="1.6"/>
<line x1="390.0" y1="20.9" x2="390.0" y2="338.0" stroke-width="1.25"/>
<line x1="73.0" y1="20.9" x2="390.0" y2="20.9" stroke-width="1.4"/>
<line x1="73.0" y1="338.0" x2="390.0" y2="338.0" stroke-width="1.4"/>
</g>
<g font-size="18px">
<text x="73.00" y="358.6" text-anchor="middle">−180</text>
<text x="152.05" y="358.6" text-anchor="middle">−90</text>
<text x="233.60" y="358.6" text-anchor="middle">0</text>
<text x="313.25" y="358.6" text-anchor="middle">90</text>
<text x="392.60" y="358.6" text-anchor="middle">180</text>
<text x="65.2" y="345.10" text-anchor="end">0</text>
<text x="65.2" y="295.43" text-anchor="end">5</text>
<text x="65.2" y="245.76" text-anchor="end">10</text>
<text x="65.2" y="196.09" text-anchor="end">15</text>
<text x="65.2" y="146.42" text-anchor="end">20</text>
<text x="65.2" y="96.75" text-anchor="end">25</text>
<text x="65.2" y="47.08" text-anchor="end">30</text>
</g>
<text x="224.7" y="12.7" font-size="14.4px" text-anchor="middle">Mass Hierarchy Discovery, IH true</text>
<text x="291.7" y="295.8" font-size="10.8px">95% C.L.</text>
<text x="291.7" y="322.5" font-size="10.8px">90% C.L.</text>
<text x="1.5" y="192.7" font-size="22px">&#916;</text>
<g transform="translate(14,174) scale(0.06)" fill="none" stroke="#000" stroke-linecap="round" stroke-linejoin="round">
<path d="M102 104 C128 130 150 235 184 298" stroke-width="34" stroke-linecap="butt"/>
<path d="M63 138 C65 110 82 92 106 102" stroke-width="18"/>
<path d="M180 296 C198 326 230 320 241 286" stroke-width="18"/>
<path d="M221 98 L82 324" stroke-width="17"/>
<path d="M72 326 L100 328" stroke-width="14"/>
</g>
<text x="28.5" y="181.8" font-size="15px">2</text>
<g transform="translate(184,368) scale(0.06993)" fill="#000" stroke="none">
<path fill-rule="evenodd" d="M145 174 A88 88 0 1 0 145.1 350 A88 88 0 1 0 145 174 Z M141 192 A48 70 0 1 1 140.9 332 A48 70 0 1 1 141 192 Z"/>
<path d="M77 100 C80 130 125 165 158 190 L228 238 C216 196 172 146 110 92 Z"/>
<path d="M84 106 C84 80 110 66 145 66 C172 66 190 76 196 94" fill="none" stroke="#000" stroke-width="17" stroke-linecap="round"/>
<circle cx="195" cy="97" r="18"/>
</g>
<text x="200.2" y="397" font-size="19.5px">CP</text>
<text x="227.1" y="391.8" font-size="21.6px">(true)</text>
</svg>
</body></html>
